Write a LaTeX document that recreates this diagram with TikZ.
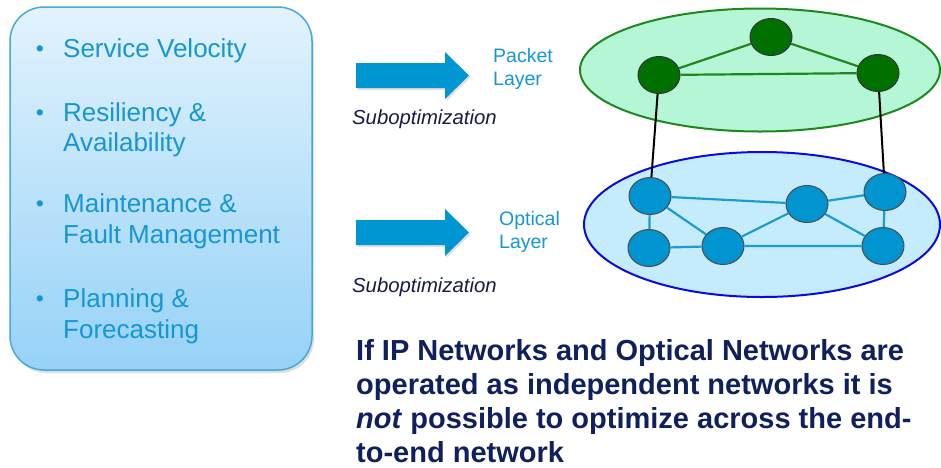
\documentclass[tikz,border=0pt]{standalone}
\usepackage{fontspec}
\setmainfont{Liberation Sans}
\usetikzlibrary{shapes.geometric,shadows}
\definecolor{txtblue}{RGB}{22,150,212}
\definecolor{navy}{RGB}{16,32,92}
\definecolor{subnavy}{RGB}{24,26,72}
\definecolor{arrowblue}{RGB}{0,150,210}
\definecolor{panelborder}{RGB}{70,168,222}
\definecolor{paneltop}{RGB}{226,243,253}
\definecolor{panelbot}{RGB}{150,210,247}
\definecolor{pktfill}{RGB}{180,246,214}
\definecolor{pktborder}{RGB}{30,135,30}
\definecolor{pktnode}{RGB}{0,112,0}
\definecolor{optfill}{RGB}{197,236,252}
\definecolor{optborder}{RGB}{10,10,225}
\definecolor{optnode}{RGB}{0,148,208}
\definecolor{optedge}{RGB}{30,155,208}
\tikzset{
  bul/.style={anchor=base west,text=txtblue,font=\fontsize{26}{30}\selectfont,inner sep=0},
  dot/.style={anchor=base,text=txtblue,font=\fontsize{23}{28}\selectfont,inner sep=0},
  lay/.style={anchor=base west,text=txtblue,font=\fontsize{19.5}{23}\selectfont,inner sep=0},
  subopt/.style={anchor=base west,text=subnavy,font=\fontsize{20.3}{24}\selectfont\itshape,inner sep=0},
  concl/.style={anchor=base west,text=navy,font=\fontsize{29}{34}\selectfont\bfseries,inner sep=0},
  blockarrow/.style={fill=arrowblue,draw=none,drop shadow={shadow xshift=1.5pt,shadow yshift=-2pt,opacity=0.25}},
  pkt/.style={ellipse,draw=black!80,line width=1pt,fill=pktnode,minimum width=42pt,minimum height=37pt,inner sep=0},
  opt/.style={ellipse,draw=black!70,line width=1pt,fill=optnode,minimum width=42pt,minimum height=37pt,inner sep=0},
  pktedge/.style={draw=pktborder,line width=2.2pt},
  optline/.style={draw=optedge,line width=2.2pt},
  vlink/.style={draw=black,line width=2pt}
}
\begin{document}
\begin{tikzpicture}[x=1pt,y=-1pt]
\useasboundingbox (0,0) rectangle (941,467);
% left panel
\node[draw=panelborder,line width=1.5pt,rounded corners=34pt,top color=paneltop,bottom color=panelbot,
  minimum width=302pt,minimum height=363pt,inner sep=0,
  drop shadow={shadow xshift=2pt,shadow yshift=-3pt,opacity=0.25}] (panel) at (161,188.5) {};
\node[dot] (d1) at (40,56.5) {•};
\node[dot] (d2) at (40,120.5) {•};
\node[dot] (d3) at (40,211.5) {•};
\node[dot] (d4) at (40,306.5) {•};
\node[bul] (t1) at (63,57) {Service Velocity};
\node[bul] (t2a) at (63,121) {Resiliency \&};
\node[bul] (t2b) at (63,151) {Availability};
\node[bul] (t3a) at (63,212) {Maintenance \&};
\node[bul] (t3b) at (63,243) {Fault Management};
\node[bul] (t4a) at (63,307) {Planning \&};
\node[bul] (t4b) at (63,338) {Forecasting};
% arrows
\path[blockarrow] (356,63) -- (445,63) -- (445,52) -- (469,75.5) -- (445,99) -- (445,88) -- (356,88) -- cycle;
\path[blockarrow] (356,220) -- (445,220) -- (445,209) -- (469,232.5) -- (445,256) -- (445,245) -- (356,245) -- cycle;
\node[lay] (pk1) at (493,62) {Packet};
\node[lay] (pk2) at (493,85) {Layer};
\node[lay] (op1) at (499,225) {Optical};
\node[lay] (op2) at (499,248) {Layer};
\node[subopt] (s1) at (352,124) {Suboptimization};
\node[subopt] (s2) at (352,292) {Suboptimization};
% packet layer
\node[ellipse,draw=pktborder,line width=2pt,fill=pktfill,minimum width=360pt,minimum height=123pt,inner sep=0] (pktlayer) at (760,70) {};
\node[pkt] (g1) at (659,75) {};
\node[pkt] (g2) at (771,37) {};
\node[pkt] (g3) at (878,73) {};
% optical layer
\node[ellipse,draw=optborder,line width=2pt,fill=optfill,minimum width=356pt,minimum height=145pt,inner sep=0] (optlayer) at (762,224.5) {};
\node[opt] (a) at (650,196) {};
\node[opt] (b) at (649,248) {};
\node[opt] (c) at (723,246) {};
\node[opt] (d) at (807,204) {};
\node[opt] (e) at (885,192) {};
\node[opt] (f) at (883,246) {};
% edges
\path[pktedge] (g1) -- (g2) (g2) -- (g3) (g1) -- (g3);
\path[optline] (a) -- (d) (a) -- (b) (a) -- (c) (b) -- (c) (c) -- (d) (d) -- (e) (d) -- (f) (e) -- (f) (c) -- (f);
\path[vlink] (g1) -- (a) (g3) -- (e);
% conclusion
\node[concl] (c1) at (356,360) {If IP Networks and Optical Networks are};
\node[concl] (c2) at (356,394) {operated as independent networks it is};
\node[concl] (c3) at (356,428) {\textit{not} possible to optimize across the end-};
\node[concl] (c4) at (356,462) {to-end network};
\end{tikzpicture}
\end{document}
